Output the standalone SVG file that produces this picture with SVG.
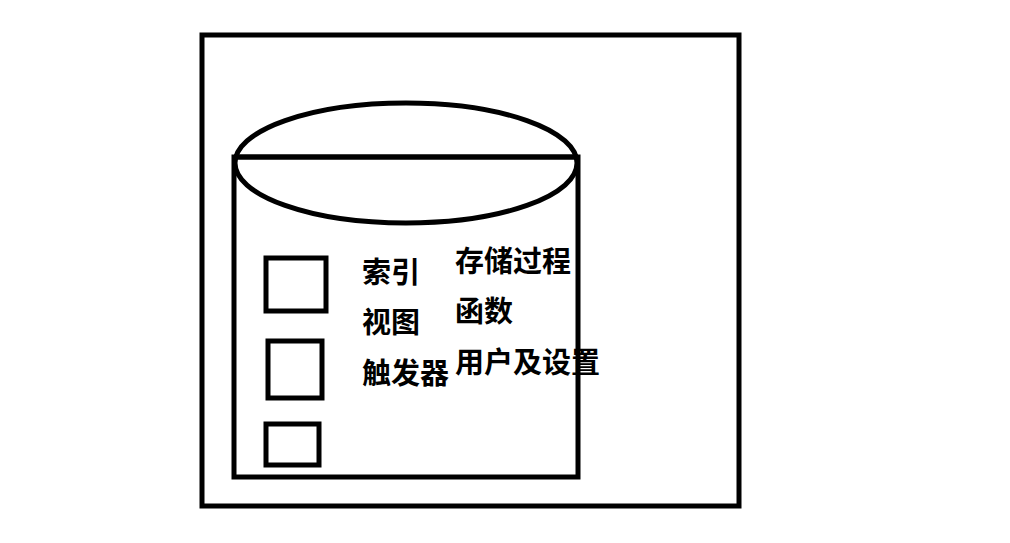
<svg xmlns="http://www.w3.org/2000/svg" width="1010" height="543" viewBox="0 0 1010 543">
<style>
.s{fill:none;stroke:#000;stroke-width:5}
.t{font-family:"Noto Sans CJK SC","Noto Sans CJK JP",sans-serif;font-weight:bold;font-size:29px;fill:#000}
</style>
<rect width="1010" height="543" fill="#fff"/>
<g id="outer"><rect class="s" x="202" y="35" width="537" height="471"/></g>
<g id="cylinder">
<rect class="s" x="234" y="157" width="344" height="320"/>
<ellipse class="s" cx="406" cy="163" rx="171" ry="60"/>
<line class="s" x1="234" y1="157" x2="578" y2="157"/>
</g>
<g id="box1"><rect class="s" x="266" y="258" width="60" height="53"/></g>
<g id="box2"><rect class="s" x="268" y="341" width="54" height="57"/></g>
<g id="box3"><rect class="s" x="266" y="424" width="53" height="41"/></g>
<g id="labels">
<text class="t" x="362" y="283">索引</text>
<text class="t" x="362" y="333">视图</text>
<text class="t" x="362" y="384">触发器</text>
<text class="t" x="455" y="272">存储过程</text>
<text class="t" x="455" y="322">函数</text>
<text class="t" x="455" y="373">用户及设置</text>
</g>
<g id="connectors"></g>
</svg>
